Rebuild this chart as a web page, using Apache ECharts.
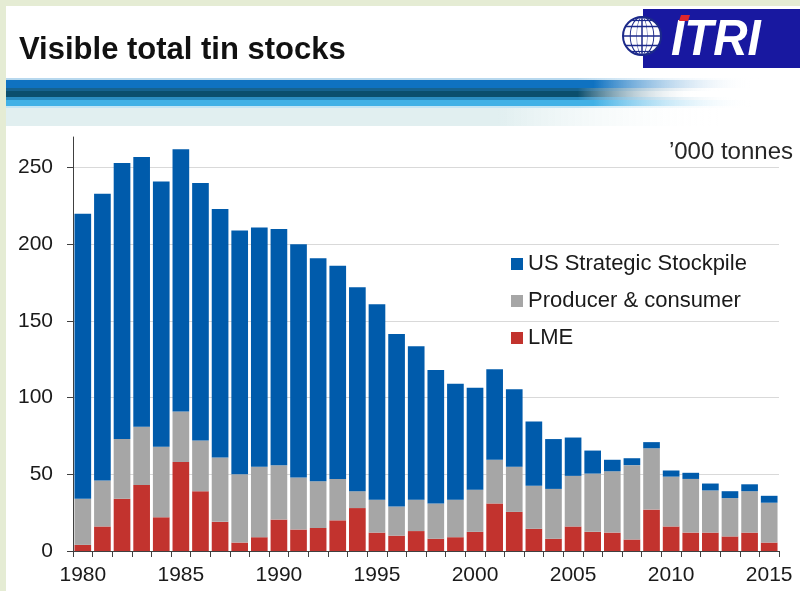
<!DOCTYPE html>
<html>
<head>
<meta charset="utf-8">
<script src="https://cdn.jsdelivr.net/npm/echarts@6/dist/echarts.min.js"></script>
<style>
  html, body { margin: 0; padding: 0; background: #ffffff; }
  #wrap { position: relative; width: 800px; height: 591px; overflow: hidden; background: #ffffff; }
  #main { position: absolute; left: 0; top: 0; width: 800px; height: 591px; }
  .strip { position: absolute; background: #e5ecd4; pointer-events: none; z-index: 5; }
</style>
</head>
<body>
<div id="wrap">
  <div id="main"></div>
  <div class="strip" style="left:0;top:0;width:6px;height:591px;"></div>
  <div class="strip" style="left:0;top:0;width:800px;height:6px;"></div>
</div>
<script>
// ---- data (thousand tonnes) ----
const years = ['1980','1981','1982','1983','1984','1985','1986','1987','1988','1989',
  '1990','1991','1992','1993','1994','1995','1996','1997','1998','1999',
  '2000','2001','2002','2003','2004','2005','2006','2007','2008','2009',
  '2010','2011','2012','2013','2014','2015'];
const lme = [4, 16, 34, 43, 22, 58, 39, 19, 5.5, 9,
  20.5, 14, 15, 20, 28, 12, 10, 13, 8, 9,
  12.5, 31, 25.5, 14.5, 8, 16, 12.5, 12, 7.5, 27,
  16, 12, 12, 9.5, 12, 5.5];
const producerConsumer = [30, 30, 39, 38, 46, 33, 33, 42, 44.5, 46,
  35.5, 34, 30.5, 27, 11, 21.5, 19, 20.5, 23, 24.5,
  27.5, 28.5, 29.5, 28, 32.5, 33, 38, 40, 48.5, 40,
  32.5, 35, 27.5, 25, 27, 26];
const usStockpile = [186, 187, 180, 176, 173, 171, 168, 162, 159, 156,
  154, 152, 145.5, 139, 133, 127.5, 112.5, 100, 87, 75.5,
  66.5, 59, 50.5, 42, 32.5, 25, 15, 7.5, 4.5, 4,
  4, 4, 4.5, 4.5, 4.5, 4.5];
const yTicks = [0, 50, 100, 150, 200, 250];
const seriesNames = ['US Strategic Stockpile', 'Producer & consumer', 'LME'];

const chart = echarts.init(document.getElementById('main'), null, { renderer: 'canvas' });

function band(y, h, color, fadeStart, fadeEnd) {
  return {
    type: 'rect', silent: true, z: 1,
    shape: { x: 6, y: y, width: 794, height: h },
    style: {
      fill: new echarts.graphic.LinearGradient(0, 0, 1, 0, [
        { offset: 0, color: color },
        { offset: fadeStart, color: color },
        { offset: fadeEnd, color: 'rgba(255,255,255,0)' },
        { offset: 1, color: 'rgba(255,255,255,0)' }
      ])
    }
  };
}

const globeColor = '#1c2a8a';
function gLine(x1, y1, x2, y2, w) {
  return { type: 'line', z: 21, shape: { x1: x1, y1: y1, x2: x2, y2: y2 }, style: { stroke: globeColor, lineWidth: w } };
}
const globe = {
  type: 'group', x: 642, y: 36,
  children: [
    { type: 'circle', z: 20, shape: { cx: 0, cy: 0, r: 19 }, style: { fill: '#ffffff', stroke: globeColor, lineWidth: 2 } },
    { type: 'circle', z: 21, shape: { cx: 0, cy: 0, r: 19 }, scaleX: 0.62, style: { fill: 'none', stroke: globeColor, lineWidth: 1.5, strokeNoScale: true } },
    { type: 'circle', z: 21, shape: { cx: 0, cy: 0, r: 19 }, scaleX: 0.28, style: { fill: 'none', stroke: globeColor, lineWidth: 1.5, strokeNoScale: true } },
    gLine(0, -19, 0, 19, 1.5),
    gLine(-19, 0, 19, 0, 1.5),
    gLine(-16.5, -9.5, 16.5, -9.5, 1.5),
    gLine(-16.5, 9.5, 16.5, 9.5, 1.5),
    gLine(-11, -15.5, 11, -15.5, 1.2),
    gLine(-11, 15.5, 11, 15.5, 1.2)
  ]
};

const option = {
  animation: false,
  backgroundColor: 'transparent',
  textStyle: { fontFamily: 'Liberation Sans, Arial, sans-serif' },
  title: {
    text: 'Visible total tin stocks',
    left: 14, top: 30,
    textStyle: { fontSize: 31, fontWeight: 'bold', color: '#111111', fontFamily: 'Liberation Sans, Arial, sans-serif' }
  },
  graphic: [
    band(78, 2, '#b7d8ee', 0.72, 0.95),
    band(80, 8, '#0f72c1', 0.74, 0.94),
    band(88, 3, '#16628f', 0.72, 0.90),
    band(91, 6, '#0b4e6d', 0.72, 0.87),
    band(97, 3, '#2b8dc2', 0.72, 0.92),
    band(100, 6, '#41b1e6', 0.74, 0.94),
    band(106, 2, '#c4e5f4', 0.72, 0.94),
    band(108, 18, '#e1eff0', 0.62, 0.90),
    {
      type: 'rect', silent: true, z: 5,
      shape: { x: 643, y: 9, width: 157, height: 59 },
      style: { fill: '#1818a0' }
    },
    globe,
    {
      type: 'text', silent: true, z: 22,
      x: 671, y: 41, scaleX: 0.95,
      style: {
        text: 'ITRI', fill: '#ffffff',
        font: 'italic bold 50px "Liberation Sans", Arial, sans-serif',
        align: 'left', verticalAlign: 'middle'
      }
    },
    {
      type: 'polygon', silent: true, z: 23,
      shape: { points: [[681, 15], [690, 15], [688, 21], [679, 21]] },
      style: { fill: '#e0262b' }
    },
    {
      type: 'text', silent: true, z: 11,
      right: 7, top: 140,
      style: {
        text: '\u2019000 tonnes', fill: '#262626',
        font: '24px "Liberation Sans", Arial, sans-serif'
      }
    }
  ],
  legend: {
    orient: 'vertical',
    left: 506, top: 248,
    itemWidth: 12, itemHeight: 12, itemGap: 15,
    icon: 'rect',
    data: seriesNames,
    textStyle: { fontSize: 22, color: '#1a1a1a', lineHeight: 22, fontFamily: 'Liberation Sans, Arial, sans-serif' }
  },
  grid: { left: 73, right: 21, top: 137, bottom: 40 },
  xAxis: {
    type: 'category',
    data: years,
    boundaryGap: true,
    axisLine: { show: true, lineStyle: { color: '#404040', width: 1 } },
    axisTick: { show: true, length: 6, interval: 0, lineStyle: { color: '#404040' } },
    axisLabel: { interval: 4, margin: 14, fontSize: 21, color: '#1a1a1a' },
    splitLine: { show: false }
  },
  yAxis: {
    type: 'value',
    min: 0, max: 270, interval: 50,
    axisLine: { show: true, lineStyle: { color: '#404040', width: 1 } },
    axisTick: { show: true, length: 6, lineStyle: { color: '#404040' }, customValues: yTicks },
    axisLabel: { margin: 20, fontSize: 21, color: '#1a1a1a', customValues: yTicks },
    splitLine: { show: true, lineStyle: { color: '#d9d9d9', width: 1 } }
  },
  series: [
    {
      name: 'LME', type: 'bar', stack: 'total', data: lme,
      barCategoryGap: '15%', itemStyle: { color: '#c2332e' }
    },
    {
      name: 'Producer & consumer', type: 'bar', stack: 'total', data: producerConsumer,
      barCategoryGap: '15%', itemStyle: { color: '#a6a6a6' }
    },
    {
      name: 'US Strategic Stockpile', type: 'bar', stack: 'total', data: usStockpile,
      barCategoryGap: '15%', itemStyle: { color: '#005bab' }
    }
  ]
};
chart.setOption(option);
</script>
</body>
</html>
